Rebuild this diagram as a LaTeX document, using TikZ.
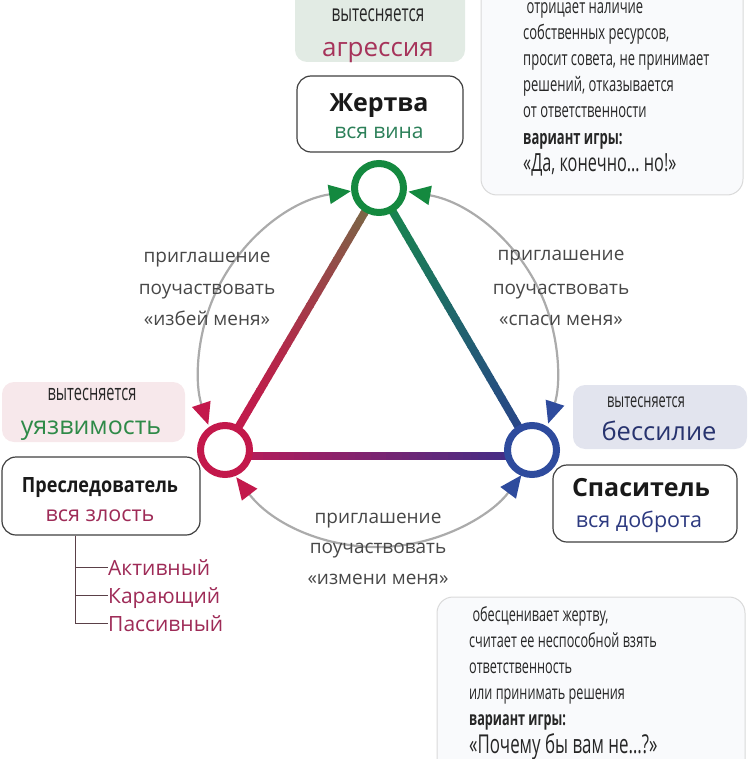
\documentclass[tikz,border=0pt]{standalone}
\usepackage{fontspec}
\setmainfont{Open Sans}
\newfontfamily\condf[FakeStretch=0.65]{Open Sans}
\newfontfamily\semif[FakeStretch=0.86]{Open Sans}
\usetikzlibrary{arrows.meta,calc,backgrounds}
\definecolor{vgreen}{HTML}{14893F}
\definecolor{vred}{HTML}{C3184B}
\definecolor{vblue}{HTML}{2E4B9D}
\definecolor{olivec}{HTML}{6F7345}
\definecolor{tealg}{HTML}{168A4A}
\definecolor{blueend}{HTML}{2A3F8E}
\definecolor{redbar}{HTML}{C21A55}
\definecolor{indigo}{HTML}{3A2E8A}
\definecolor{arcgray}{HTML}{ABABAB}
\definecolor{labgray}{HTML}{474747}
\definecolor{aggr}{HTML}{A6335A}
\definecolor{wingreen}{HTML}{2C8059}
\definecolor{vulgreen}{HTML}{2E8A48}
\definecolor{textred}{HTML}{9E2B57}
\definecolor{textblue}{HTML}{27336E}
\definecolor{kindblue}{HTML}{2D3A80}
\definecolor{fillgreen}{HTML}{E2EBE4}
\definecolor{fillpink}{HTML}{F7E8EB}
\definecolor{fillblue}{HTML}{E2E4EE}
\definecolor{notefill}{HTML}{F9FAFC}
\definecolor{boxline}{HTML}{D9D9D9}
\definecolor{darkline}{HTML}{404040}
\definecolor{treeline}{HTML}{5A4048}
\definecolor{notetext}{HTML}{262626}

\newcommand\gradedge[5]{%
  \foreach \i [evaluate=\i as \pc using int(100*((\i+0.5)/40)^#5),
               evaluate=\i as \sa using \i/40,
               evaluate=\i as \sb using (\i+1.15)/40] in {0,...,39}{%
    \draw[line width=8pt, draw=#4!\pc!#3] ($(#1)!\sa!(#2)$) -- ($(#1)!\sb!(#2)$);
  }%
}

\tikzset{
  tipG/.tip={Triangle[length=22pt,width=19pt,color=vgreen]},
  tipR/.tip={Triangle[length=22pt,width=19pt,color=vred]},
  tipB/.tip={Triangle[length=22pt,width=19pt,color=vblue]},
}

\begin{document}
\begin{tikzpicture}[x=1pt,y=-1pt,
  vertex/.style={circle, line width=7pt, fill=white, minimum size=49pt, inner sep=0pt},
  invite/.style={draw=arcgray, line width=2.2pt},
  shadebox/.style={rounded corners=12pt, inner sep=0pt},
  rolebox/.style={draw=darkline, line width=1.2pt, fill=white, rounded corners=14pt, inner sep=0pt},
  notebox/.style={draw=boxline, line width=1pt, fill=notefill, rounded corners=16pt, inner sep=0pt},
  txt/.style={inner sep=0pt, anchor=base},
  lab/.style={txt, text=labgray, font=\fontsize{19}{24}\selectfont},
  repress/.style={txt, text=notetext, font=\condf\fontsize{#1}{24}\selectfont},
  bigword/.style={txt, font=\fontsize{26}{30}\selectfont},
  title/.style={txt, text=black!90, font=\bfseries\fontsize{25}{30}\selectfont},
  sub/.style={txt, font=\fontsize{21.5}{26}\selectfont},
  note/.style={inner sep=0pt, anchor=base west, text=notetext, font=\condf\fontsize{20}{24}\selectfont},
  kind/.style={inner sep=0pt, anchor=base west, text=textred, text height=15pt, text depth=0pt, font=\fontsize{21}{24}\selectfont},
]
\useasboundingbox (0,0) rectangle (749,759);

% ---------- note boxes ----------
\node[notebox, minimum width=262pt, minimum height=220pt] (tnote) at (612,85) {};
\node[notebox, minimum width=308pt, minimum height=185pt] (bnote) at (591,689.5) {};

% ---------- repressed boxes ----------
\node[shadebox, fill=fillgreen, minimum width=170pt, minimum height=80pt] (agrbox) at (380,22) {};
\node[shadebox, fill=fillpink, minimum width=183pt, minimum height=60pt] (vulbox) at (93.5,412) {};
\node[shadebox, fill=fillblue, minimum width=174pt, minimum height=64pt] (powbox) at (660,417) {};

% ---------- role boxes ----------
\node[rolebox, minimum width=166pt, minimum height=76pt] (victim) at (380,114) {};
\node[rolebox, minimum width=198pt, minimum height=78pt] (persec) at (101,496) {};
\node[rolebox, minimum width=184pt, minimum height=77pt] (rescuer) at (645,503.5) {};

% ---------- texts in boxes ----------
\node[repress=23.5] (agr1) at (378,22) {вытесняется};
\node[bigword, text=aggr] (agr2) at (378,57) {агрессия};
\node[title] (vic1) at (379,112) {Жертва};
\node[sub, text=wingreen, font=\fontsize{21}{26}\selectfont] (vic2) at (379,139) {вся вина};

\node[repress=22.5] (vul1) at (92,400) {вытесняется};
\node[bigword, text=vulgreen, font=\fontsize{25}{30}\selectfont] (vul2) at (91,434) {уязвимость};
\node[txt, text=black!90, font=\semif\bfseries\fontsize{21}{26}\selectfont] (per1) at (100,492) {Преследователь};
\node[sub, text=textred] (per2) at (100,521) {вся злость};

\node[repress=19.7] (pow1) at (646,407) {вытесняется};
\node[bigword, text=textblue, font=\fontsize{25.5}{30}\selectfont] (pow2) at (659,440) {бессилие};
\node[title] (res1) at (641,496) {Спаситель};
\node[sub, text=kindblue] (res2) at (639,527) {вся доброта};

% ---------- persecutor kinds ----------
\coordinate (treetop) at ($(persec.south west)+(74,0)$);
\node[kind] (k1) at (108,575) {Активный};
\node[kind] (k2) at (108,603) {Карающий};
\node[kind] (k3) at (108,631) {Пассивный};
\foreach \k in {k1,k2,k3}{\draw[draw=treeline, line width=0.9pt] (treetop) |- (\k.west);}

% ---------- notes text ----------
\node[note] (t1) at (523,14) {\ отрицает наличие};
\node[note] (t2) at (523,40) {собственных ресурсов,};
\node[note] (t3) at (523,66) {просит совета, не принимает};
\node[note] (t4) at (523,92) {решений, отказывается};
\node[note] (t5) at (523,118) {от ответственности};
\node[note, font=\condf\bfseries\fontsize{20}{24}\selectfont] (t6) at (523,145) {вариант игры:};
\node[note, font=\condf\fontsize{25}{30}\selectfont] (t7) at (523,172) {«Да, конечно… но!»};

\node[note, font=\condf\fontsize{19.5}{24}\selectfont] (b1) at (469,621) {\ обесценивает жертву,};
\node[note, font=\condf\fontsize{19.5}{24}\selectfont] (b2) at (469,647) {считает ее неспособной взять};
\node[note, font=\condf\fontsize{19.5}{24}\selectfont] (b3) at (469,673) {ответственность};
\node[note, font=\condf\fontsize{19.5}{24}\selectfont] (b4) at (469,699) {или принимать решения};
\node[note, font=\condf\bfseries\fontsize{19.5}{24}\selectfont] (b5) at (469,725) {вариант игры:};
\node[note, font=\condf\fontsize{26}{30}\selectfont] (b6) at (469,753) {«Почему бы вам не…?»};

% ---------- triangle vertices ----------
\node[vertex, draw=vgreen] (T) at (379,188) {};
\node[vertex, draw=vred] (L) at (225,450) {};
\node[vertex, draw=vblue] (R) at (532,450) {};
\coordinate (Lb) at ($(L)+(0,6)$);
\coordinate (Rb) at ($(R)+(0,6)$);

\begin{scope}[on background layer]
  \gradedge{L}{T}{vred}{olivec}{1.6}
  \gradedge{T}{R}{tealg}{blueend}{1}
  \gradedge{Lb}{Rb}{redbar}{indigo}{0.9}
\end{scope}

% ---------- invitation arcs (on the circle through the three roles) ----------
\coordinate (C) at (378,368);
\coordinate (aTL) at ($(C)+(98.7:179pt)$);
\coordinate (aTR) at ($(C)+(80.2:179pt)$);
\coordinate (aLB) at ($(C)+(217.6:179pt)$);
\draw[invite, tipG-tipR] (aTL) arc[start angle=98.7, end angle=198.5, radius=179pt];
\draw[invite, tipG-tipB] (aTR) arc[start angle=80.2, end angle=-18.1, radius=179pt];
\draw[invite, tipR-tipB] (aLB) arc[start angle=217.6, end angle=323.2, radius=179pt];

% ---------- arc labels ----------
\node[lab] (il1) at (207,262) {приглашение};
\node[lab] (il2) at (207,294) {поучаствовать};
\node[lab] (il3) at (207,325) {«избей меня»};
\node[lab] (ir1) at (561,260) {приглашение};
\node[lab] (ir2) at (561,294) {поучаствовать};
\node[lab] (ir3) at (561,325) {«спаси меня»};
\node[lab] (ib1) at (378,523) {приглашение};
\node[lab] (ib2) at (378,553) {поучаствовать};
\node[lab] (ib3) at (378,584) {«измени меня»};
\end{tikzpicture}
\end{document}
